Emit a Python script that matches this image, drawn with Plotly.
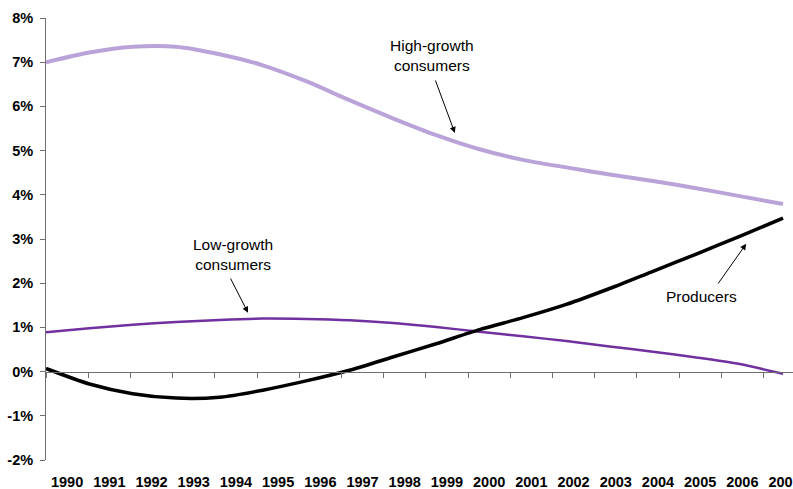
import plotly.graph_objects as go

# Annual growth rates (%) by group
years = list(range(1990, 2008))
high_growth = [7.00, 7.22, 7.35, 7.35, 7.18, 6.93, 6.57, 6.14, 5.73, 5.35,
               5.03, 4.79, 4.62, 4.46, 4.31, 4.15, 3.97, 3.79]
low_growth = [0.89, 0.98, 1.06, 1.12, 1.17, 1.20, 1.19, 1.16, 1.10, 1.01,
              0.90, 0.80, 0.69, 0.57, 0.45, 0.32, 0.17, -0.05]
producers = [0.07, -0.28, -0.50, -0.60, -0.58, -0.42, -0.21, 0.03, 0.33, 0.63,
             0.95, 1.22, 1.52, 1.88, 2.27, 2.66, 3.06, 3.47]

y_ticks = list(range(-2, 9))
y_labels = [f"{v}%" for v in y_ticks]
x_labels = [str(y) for y in years]

FONT = "Arial, Liberation Sans, sans-serif"
AXIS_GREY = "#6e6e6e"
SMOOTH = 0.7

fig = go.Figure()
fig.add_trace(go.Scatter(x=years, y=high_growth, mode="lines",
                         line=dict(color="#b9a3d9", width=4, shape="spline", smoothing=SMOOTH),
                         name="High-growth consumers"))
fig.add_trace(go.Scatter(x=years, y=low_growth, mode="lines",
                         line=dict(color="#7030a0", width=2.5, shape="spline", smoothing=SMOOTH),
                         name="Low-growth consumers"))
fig.add_trace(go.Scatter(x=years, y=producers, mode="lines",
                         line=dict(color="#000000", width=3.5, shape="spline", smoothing=SMOOTH),
                         name="Producers"))

# category-style label axis: labels centred between tick marks
lab_range = [1989.5, 2007.2]
fig.update_layout(
    template="none",
    width=793, height=489,
    margin=dict(l=46, r=0, t=18, b=29),
    paper_bgcolor="white", plot_bgcolor="white",
    showlegend=False,
    font=dict(family=FONT, color="black"),
    xaxis=dict(range=[1990, 2007.23], visible=False, fixedrange=True, automargin=False),
    xaxis2=dict(overlaying="x", anchor="y", side="bottom", range=lab_range,
                tickmode="array", tickvals=years, ticktext=x_labels,
                showline=False, ticks="", showgrid=False, zeroline=False,
                ticklabelstandoff=11, ticklabeloverflow="allow", automargin=False,
                tickfont=dict(family=FONT, size=14.5, color="black", weight="bold")),
    xaxis3=dict(overlaying="x", anchor="free", position=0.2, range=lab_range,
                tickmode="array", tickvals=[y - 0.5 for y in years] + [2007.5],
                showticklabels=False, showline=True, linecolor=AXIS_GREY, linewidth=1,
                ticks="outside", ticklen=5, tickcolor=AXIS_GREY, showgrid=False,
                zeroline=False, automargin=False),
    yaxis=dict(range=[-2, 8], tickmode="array", tickvals=y_ticks, ticktext=y_labels,
               showline=True, linecolor=AXIS_GREY, linewidth=1, ticks="outside",
               ticklen=5, tickcolor=AXIS_GREY, showgrid=False, zeroline=False,
               ticklabelstandoff=4, automargin=False,
               tickfont=dict(family=FONT, size=14.5, color="black", weight="bold")),
)
fig.add_trace(go.Scatter(x=[], y=[], xaxis="x2", showlegend=False))
fig.add_trace(go.Scatter(x=[], y=[], xaxis="x3", showlegend=False))

label_font = dict(family=FONT, size=15.5, color="black")
texts = [
    ("High-growth<br>consumers", 1998.9, 7.16),
    ("Low-growth<br>consumers", 1994.31, 2.64),
    ("Producers", 2005.11, 1.69),
]
for t, x, y in texts:
    fig.add_annotation(x=x, y=y, xref="x", yref="y", text=t, showarrow=False,
                       align="center", font=label_font)

arrows = [
    # (head x, head y, tail x, tail y)
    (1999.43, 5.40, 1998.97, 6.62),
    (1994.66, 1.33, 1994.24, 2.14),
    (2006.15, 2.89, 2005.48, 1.96),
]
for hx, hy, tx, ty in arrows:
    fig.add_annotation(x=hx, y=hy, xref="x", yref="y", ax=tx, ay=ty,
                       axref="x", ayref="y", text="", showarrow=True,
                       arrowhead=2, arrowsize=1.2, arrowwidth=1, arrowcolor="black",
                       standoff=0, startstandoff=0)

fig.write_html("out.html")
